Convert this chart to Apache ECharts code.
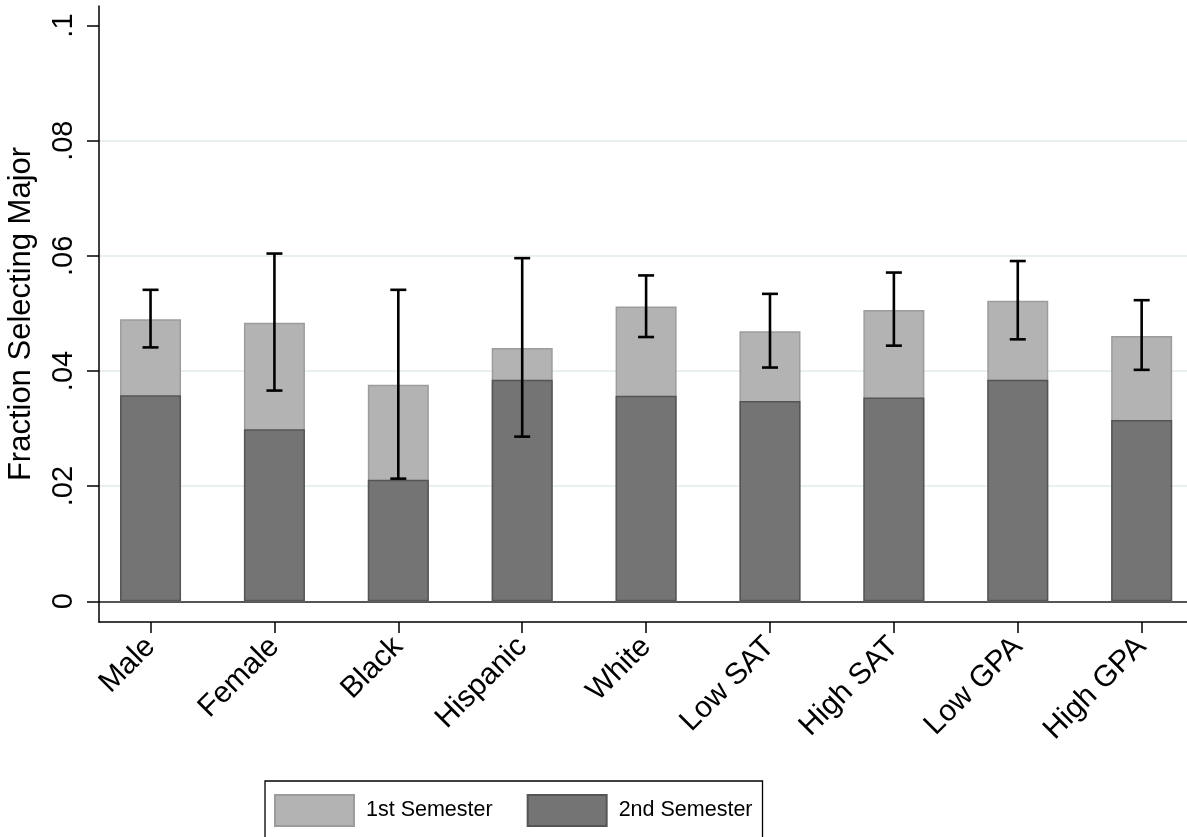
<!DOCTYPE html>
<html>
<head>
<meta charset="utf-8">
<script src="https://cdn.jsdelivr.net/npm/echarts@6/dist/echarts.min.js"></script>
<style>
  html, body { margin: 0; padding: 0; background: #fff; }
  #chart { width: 1187px; height: 837px; }
</style>
</head>
<body>
<div id="chart"></div>
<script>
// Groups shown along the horizontal axis
const categories = ['Male', 'Female', 'Black', 'Hispanic', 'White', 'Low SAT', 'High SAT', 'Low GPA', 'High GPA'];

// Fraction selecting the major, by semester
const firstSemester  = [0.0490, 0.0484, 0.0376, 0.0440, 0.0512, 0.0469, 0.0506, 0.0522, 0.0461];
const secondSemester = [0.0358, 0.0299, 0.0211, 0.0385, 0.0357, 0.0348, 0.0354, 0.0385, 0.0315];

// Confidence interval around the 1st-semester fraction
const ciLow  = [0.0441, 0.0366, 0.0213, 0.0286, 0.0459, 0.0406, 0.0444, 0.0455, 0.0402];
const ciHigh = [0.0541, 0.0604, 0.0541, 0.0596, 0.0566, 0.0534, 0.0571, 0.0591, 0.0523];

// Y axis ticks and their labels
const yTickValues = [0, 0.02, 0.04, 0.06, 0.08, 0.1];
const yTickLabels = ['0', '.02', '.04', '.06', '.08', '.1'];

const FONT = '"Liberation Sans", Arial, Helvetica, sans-serif';

const chart = echarts.init(document.getElementById('chart'), null, { renderer: 'canvas' });

const catIdx = categories.map((_, i) => i);

function yLabel(v) {
  let best = 0;
  yTickValues.forEach((t, i) => { if (Math.abs(t - v) < Math.abs(yTickValues[best] - v)) best = i; });
  return yTickLabels[best];
}

// Vertical interval line with a cap at each end
function errorBar(params, api) {
  const x = api.value(0);
  const lo = api.coord([x, api.value(1)]);
  const hi = api.coord([x, api.value(2)]);
  const half = 8;
  const style = { stroke: '#000', lineWidth: 2.6, fill: null };
  return {
    type: 'group',
    children: [
      { type: 'line', shape: { x1: lo[0], y1: lo[1], x2: hi[0], y2: hi[1] }, style },
      { type: 'line', shape: { x1: hi[0] - half, y1: hi[1], x2: hi[0] + half, y2: hi[1] }, style },
      { type: 'line', shape: { x1: lo[0] - half, y1: lo[1], x2: lo[0] + half, y2: lo[1] }, style }
    ]
  };
}

chart.setOption({
  animation: false,
  backgroundColor: '#fff',
  textStyle: { fontFamily: FONT },
  grid: { left: 99, right: 0, top: 6, bottom: 215, outerBoundsMode: 'none' },
  legend: {
    data: ['1st Semester', '2nd Semester'],
    left: 265,
    top: 781,
    padding: [13, 10, 40, 9],
    borderColor: '#000',
    borderWidth: 1.3,
    borderRadius: 0,
    itemWidth: 79,
    itemHeight: 31,
    itemGap: 34,
    icon: 'rect',
    textStyle: { fontFamily: FONT, fontSize: 21.5, color: '#000', padding: [0, 0, 0, 7] }
  },
  xAxis: {
    type: 'value',
    min: -0.416,
    max: 8.366,
    splitLine: { show: false },
    axisLine: { show: true, onZero: false, lineStyle: { color: '#000', width: 1.5 } },
    axisTick: { show: true, customValues: catIdx, length: 11, lineStyle: { color: '#000', width: 1.5 } },
    axisLabel: {
      customValues: catIdx,
      rotate: 45,
      margin: 20,
      fontSize: 30,
      color: '#000',
      fontFamily: FONT,
      formatter: v => categories[Math.round(v)]
    }
  },
  yAxis: {
    type: 'value',
    min: -0.0036,
    max: 0.1034,
    name: 'Fraction Selecting Major',
    nameLocation: 'middle',
    nameRotate: 90,
    nameGap: 62,
    nameTextStyle: { fontSize: 31, color: '#000', fontFamily: FONT },
    axisLine: { show: true, onZero: false, lineStyle: { color: '#000', width: 1.5 } },
    axisTick: { show: true, customValues: yTickValues, length: 12, lineStyle: { color: '#000', width: 1.5 } },
    axisLabel: {
      customValues: yTickValues,
      rotate: 90,
      margin: 21,
      fontSize: 29,
      color: '#000',
      fontFamily: FONT,
      formatter: yLabel
    },
    splitLine: {
      show: true,
      lineStyle: { width: 2, color: ['#555555', '#e9f0f2', '#e9f0f2', '#e9f0f2', '#e9f0f2', 'rgba(0,0,0,0)'] }
    }
  },
  series: [
    {
      name: '1st Semester',
      type: 'bar',
      barWidth: 61,
      barGap: '-100%',
      itemStyle: { color: '#b3b3b3', borderColor: '#9c9c9c', borderWidth: 1.5 },
      data: firstSemester.map((v, i) => [i, v])
    },
    {
      name: '2nd Semester',
      type: 'bar',
      barWidth: 61,
      barGap: '-100%',
      itemStyle: { color: '#747474', borderColor: '#555555', borderWidth: 1.5 },
      data: secondSemester.map((v, i) => [i, v])
    },
    {
      name: 'CI',
      type: 'custom',
      renderItem: errorBar,
      encode: { x: 0, y: [1, 2] },
      z: 10,
      data: ciLow.map((lo, i) => [i, lo, ciHigh[i]])
    }
  ]
});
</script>
</body>
</html>
